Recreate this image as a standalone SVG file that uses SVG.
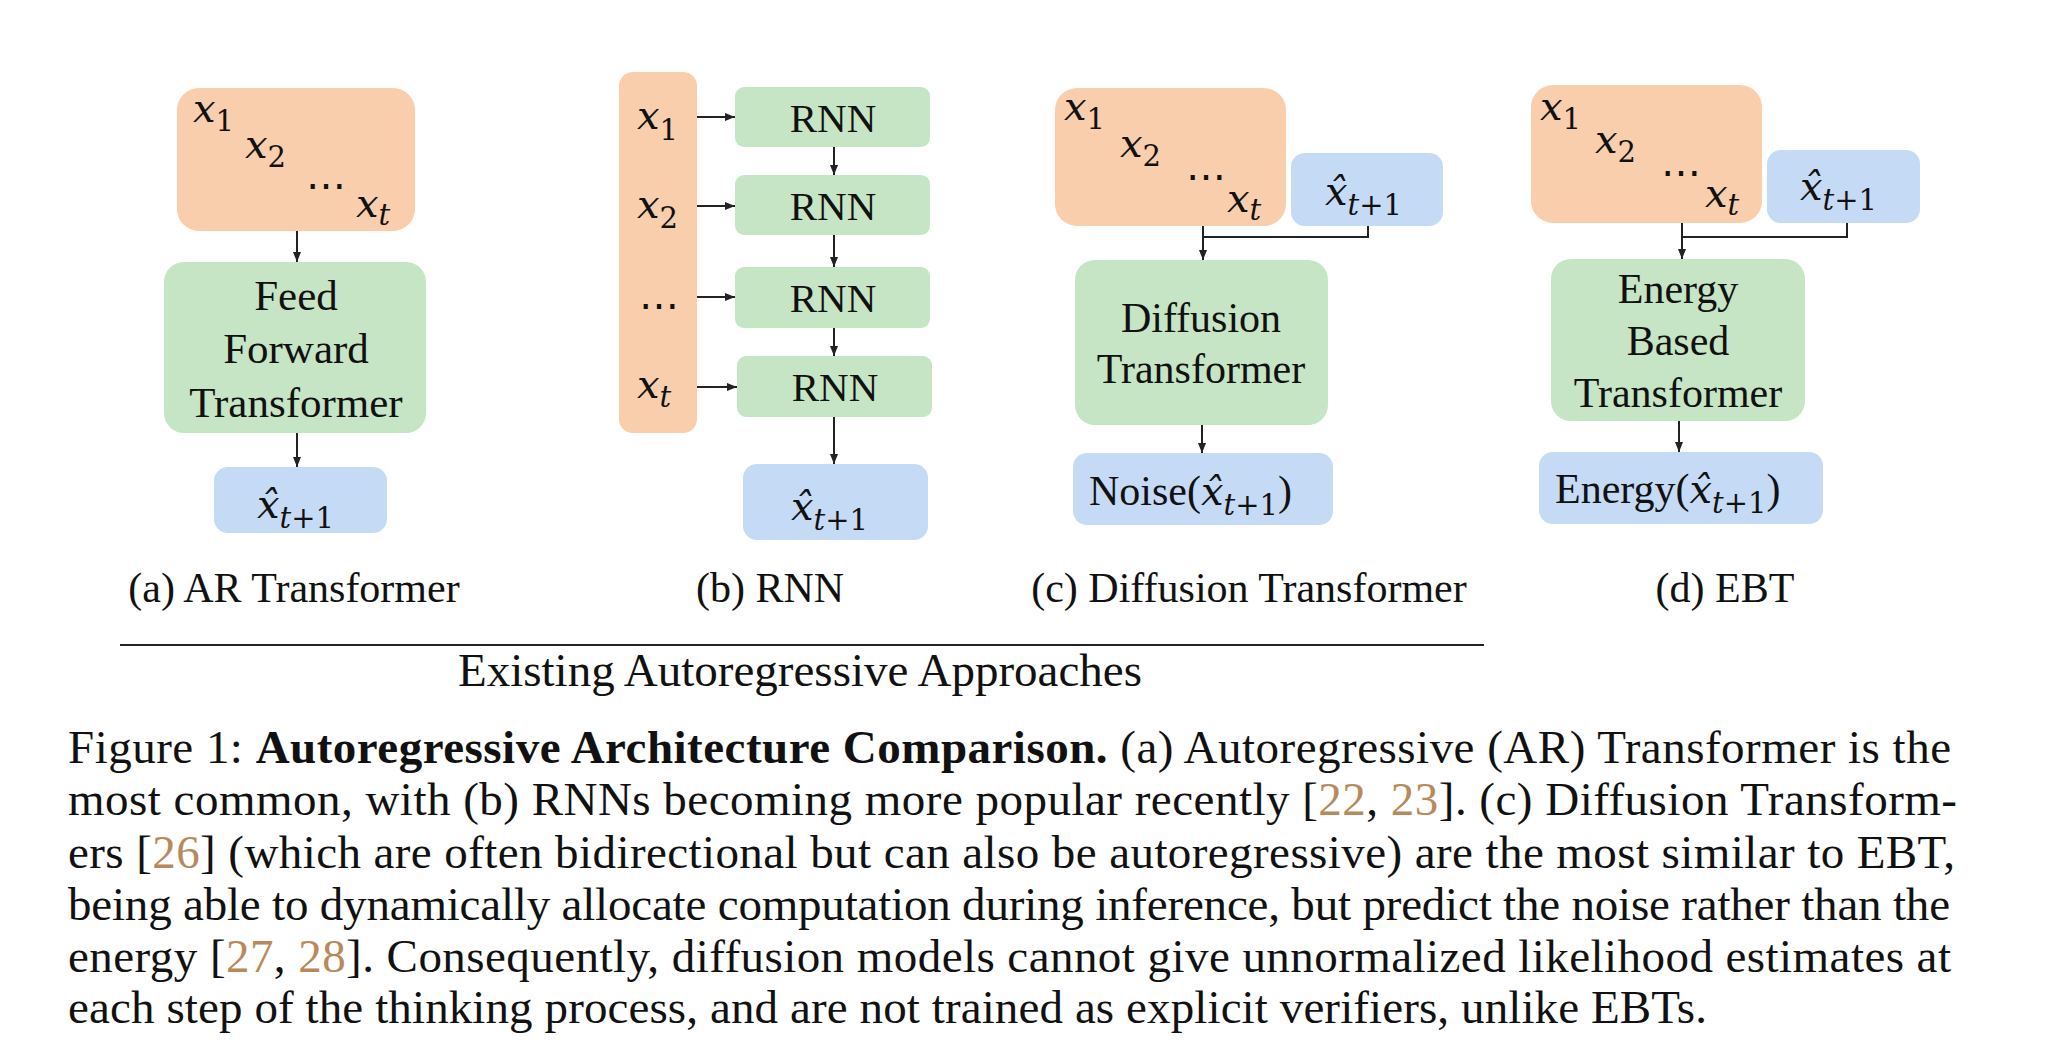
<svg xmlns="http://www.w3.org/2000/svg" width="2048" height="1045" viewBox="0 0 2048 1045">
<style>
.or{fill:#F8CEAC}
.gr{fill:#C6E5C4}
.bl{fill:#C5DBF5}
.lbl{font-family:"Liberation Serif","Times New Roman",serif;font-size:42px;fill:#111;text-anchor:middle}
.m{font-family:"DejaVu Serif",serif;font-style:italic;font-size:40px;fill:#111}
.s{font-size:29px;font-style:normal}
.si{font-size:29px;font-style:italic}
.cap{font-family:"Liberation Serif","Times New Roman",serif;font-size:47px;fill:#111}
.b{font-weight:bold}
.c{fill:#B8895A}
.ln{stroke:#222;stroke-width:2;fill:none}
.ar{stroke:#222;stroke-width:2;fill:none;marker-end:url(#ah)}
</style>
<defs>
<marker id="ah" viewBox="0 0 10 8" refX="10" refY="4" markerWidth="10" markerHeight="8" markerUnits="userSpaceOnUse" orient="auto">
<path d="M0,0 L10,4 L0,8 z" fill="#222"/>
</marker>
</defs>
<rect width="2048" height="1045" fill="#fff"/>

<g id="connectors">
<line class="ar" x1="297" y1="231" x2="297" y2="262"/>
<line class="ar" x1="297" y1="433" x2="297" y2="467"/>
<line class="ar" x1="694" y1="117" x2="735" y2="117"/>
<line class="ar" x1="694" y1="206" x2="735" y2="206"/>
<line class="ar" x1="694" y1="297" x2="735" y2="297"/>
<line class="ar" x1="694" y1="387" x2="737" y2="387"/>
<line class="ar" x1="834" y1="147" x2="834" y2="175"/>
<line class="ar" x1="834" y1="235" x2="834" y2="267"/>
<line class="ar" x1="834" y1="328" x2="834" y2="356"/>
<line class="ar" x1="834" y1="417" x2="834" y2="464"/>
<line class="ar" x1="1203" y1="226" x2="1203" y2="260"/>
<path class="ln" d="M1203 237 H1368 V226"/>
<line class="ar" x1="1202" y1="425" x2="1202" y2="453"/>
<line class="ar" x1="1682" y1="223" x2="1682" y2="259"/>
<path class="ln" d="M1682 237 H1847 V223"/>
<line class="ar" x1="1679" y1="421" x2="1679" y2="452"/>
</g>

<g id="a-input">
<rect class="or" x="177" y="88" width="238" height="143" rx="22"/>
<text class="m" x="193" y="122">x<tspan class="s" dy="9">1</tspan></text>
<text class="m" x="245" y="158">x<tspan class="s" dy="9">2</tspan></text>
<text class="m" x="306" y="199" style="font-style:normal">⋯</text>
<text class="m" x="356" y="217">x<tspan class="si" dy="8">t</tspan></text>
</g>
<g id="a-model">
<rect class="gr" x="164" y="262" width="262" height="171" rx="20"/>
<text class="lbl" x="296" y="310" style="font-size:43px">Feed</text>
<text class="lbl" x="296" y="363" style="font-size:43px">Forward</text>
<text class="lbl" x="296" y="417" style="font-size:43px">Transformer</text>
</g>
<g id="a-output">
<rect class="bl" x="214" y="467" width="173" height="66" rx="14"/>
<text class="m" x="257" y="518">x̂<tspan class="si" dy="10">t</tspan><tspan class="s">+1</tspan></text>
</g>

<g id="b-input">
<rect class="or" x="619" y="72" width="78" height="361" rx="14"/>
<text class="m" x="637" y="129">x<tspan class="s" dy="11">1</tspan></text>
<text class="m" x="637" y="218">x<tspan class="s" dy="10">2</tspan></text>
<text class="m" x="639" y="319" style="font-style:normal">⋯</text>
<text class="m" x="637" y="398">x<tspan class="si" dy="9">t</tspan></text>
</g>
<g id="b-rnn1"><rect class="gr" x="735" y="87" width="195" height="60" rx="9"/><text class="lbl" x="833" y="132" style="font-size:41px">RNN</text></g>
<g id="b-rnn2"><rect class="gr" x="735" y="175" width="195" height="60" rx="9"/><text class="lbl" x="833" y="220" style="font-size:41px">RNN</text></g>
<g id="b-rnn3"><rect class="gr" x="735" y="267" width="195" height="61" rx="9"/><text class="lbl" x="833" y="312" style="font-size:41px">RNN</text></g>
<g id="b-rnn4"><rect class="gr" x="737" y="356" width="195" height="61" rx="9"/><text class="lbl" x="835" y="401" style="font-size:41px">RNN</text></g>
<g id="b-output">
<rect class="bl" x="743" y="464" width="185" height="76" rx="14"/>
<text class="m" x="791" y="520">x̂<tspan class="si" dy="10">t</tspan><tspan class="s">+1</tspan></text>
</g>

<g id="c-input">
<rect class="or" x="1055" y="88" width="231" height="138" rx="22"/>
<text class="m" x="1064" y="120">x<tspan class="s" dy="9">1</tspan></text>
<text class="m" x="1120" y="157">x<tspan class="s" dy="9">2</tspan></text>
<text class="m" x="1186" y="190" style="font-style:normal">⋯</text>
<text class="m" x="1227" y="212">x<tspan class="si" dy="8">t</tspan></text>
</g>
<g id="c-prev">
<rect class="bl" x="1291" y="153" width="152" height="73" rx="14"/>
<text class="m" x="1325" y="205">x̂<tspan class="si" dy="10">t</tspan><tspan class="s">+1</tspan></text>
</g>
<g id="c-model">
<rect class="gr" x="1075" y="260" width="253" height="165" rx="20"/>
<text class="lbl" x="1201" y="332">Diffusion</text>
<text class="lbl" x="1201" y="383">Transformer</text>
</g>
<g id="c-output">
<rect class="bl" x="1073" y="453" width="260" height="72" rx="14"/>
<text class="lbl" x="1089" y="505" style="text-anchor:start">Noise(<tspan class="m">x̂</tspan><tspan class="m si" dy="10">t</tspan><tspan class="m s">+1</tspan><tspan dy="-10">)</tspan></text>
</g>

<g id="d-input">
<rect class="or" x="1531" y="85" width="231" height="138" rx="22"/>
<text class="m" x="1540" y="120">x<tspan class="s" dy="9">1</tspan></text>
<text class="m" x="1595" y="153">x<tspan class="s" dy="9">2</tspan></text>
<text class="m" x="1661" y="186" style="font-style:normal">⋯</text>
<text class="m" x="1705" y="207">x<tspan class="si" dy="8">t</tspan></text>
</g>
<g id="d-prev">
<rect class="bl" x="1767" y="150" width="153" height="73" rx="14"/>
<text class="m" x="1800" y="200">x̂<tspan class="si" dy="10">t</tspan><tspan class="s">+1</tspan></text>
</g>
<g id="d-model">
<rect class="gr" x="1551" y="259" width="254" height="162" rx="20"/>
<text class="lbl" x="1678" y="303">Energy</text>
<text class="lbl" x="1678" y="355">Based</text>
<text class="lbl" x="1678" y="407">Transformer</text>
</g>
<g id="d-output">
<rect class="bl" x="1539" y="452" width="284" height="72" rx="14"/>
<text class="lbl" x="1555" y="503" style="text-anchor:start">Energy(<tspan class="m">x̂</tspan><tspan class="m si" dy="10">t</tspan><tspan class="m s">+1</tspan><tspan dy="-10">)</tspan></text>
</g>

<g id="labels">
<text class="lbl" x="294" y="602">(a) AR Transformer</text>
<text class="lbl" x="770" y="602">(b) RNN</text>
<text class="lbl" x="1249" y="602">(c) Diffusion Transformer</text>
<text class="lbl" x="1725" y="602">(d) EBT</text>
<line x1="120" y1="645" x2="1484" y2="645" stroke="#222" stroke-width="2"/>
<text class="lbl" x="800" y="686" style="font-size:47px">Existing Autoregressive Approaches</text>
</g>

<g id="caption">
<text class="cap" x="68" y="763" textLength="1883" lengthAdjust="spacing">Figure 1: <tspan class="b">Autoregressive Architecture Comparison.</tspan> (a) Autoregressive (AR) Transformer is the</text>
<text class="cap" x="68" y="815" textLength="1889" lengthAdjust="spacing">most common, with (b) RNNs becoming more popular recently [<tspan class="c">22</tspan>, <tspan class="c">23</tspan>]. (c) Diffusion Transform-</text>
<text class="cap" x="68" y="868" textLength="1887" lengthAdjust="spacing">ers [<tspan class="c">26</tspan>] (which are often bidirectional but can also be autoregressive) are the most similar to EBT,</text>
<text class="cap" x="68" y="920" textLength="1882" lengthAdjust="spacing">being able to dynamically allocate computation during inference, but predict the noise rather than the</text>
<text class="cap" x="68" y="972" textLength="1883" lengthAdjust="spacing">energy [<tspan class="c">27</tspan>, <tspan class="c">28</tspan>]. Consequently, diffusion models cannot give unnormalized likelihood estimates at</text>
<text class="cap" x="68" y="1023" textLength="1639" lengthAdjust="spacing">each step of the thinking process, and are not trained as explicit verifiers, unlike EBTs.</text>
</g>
</svg>
